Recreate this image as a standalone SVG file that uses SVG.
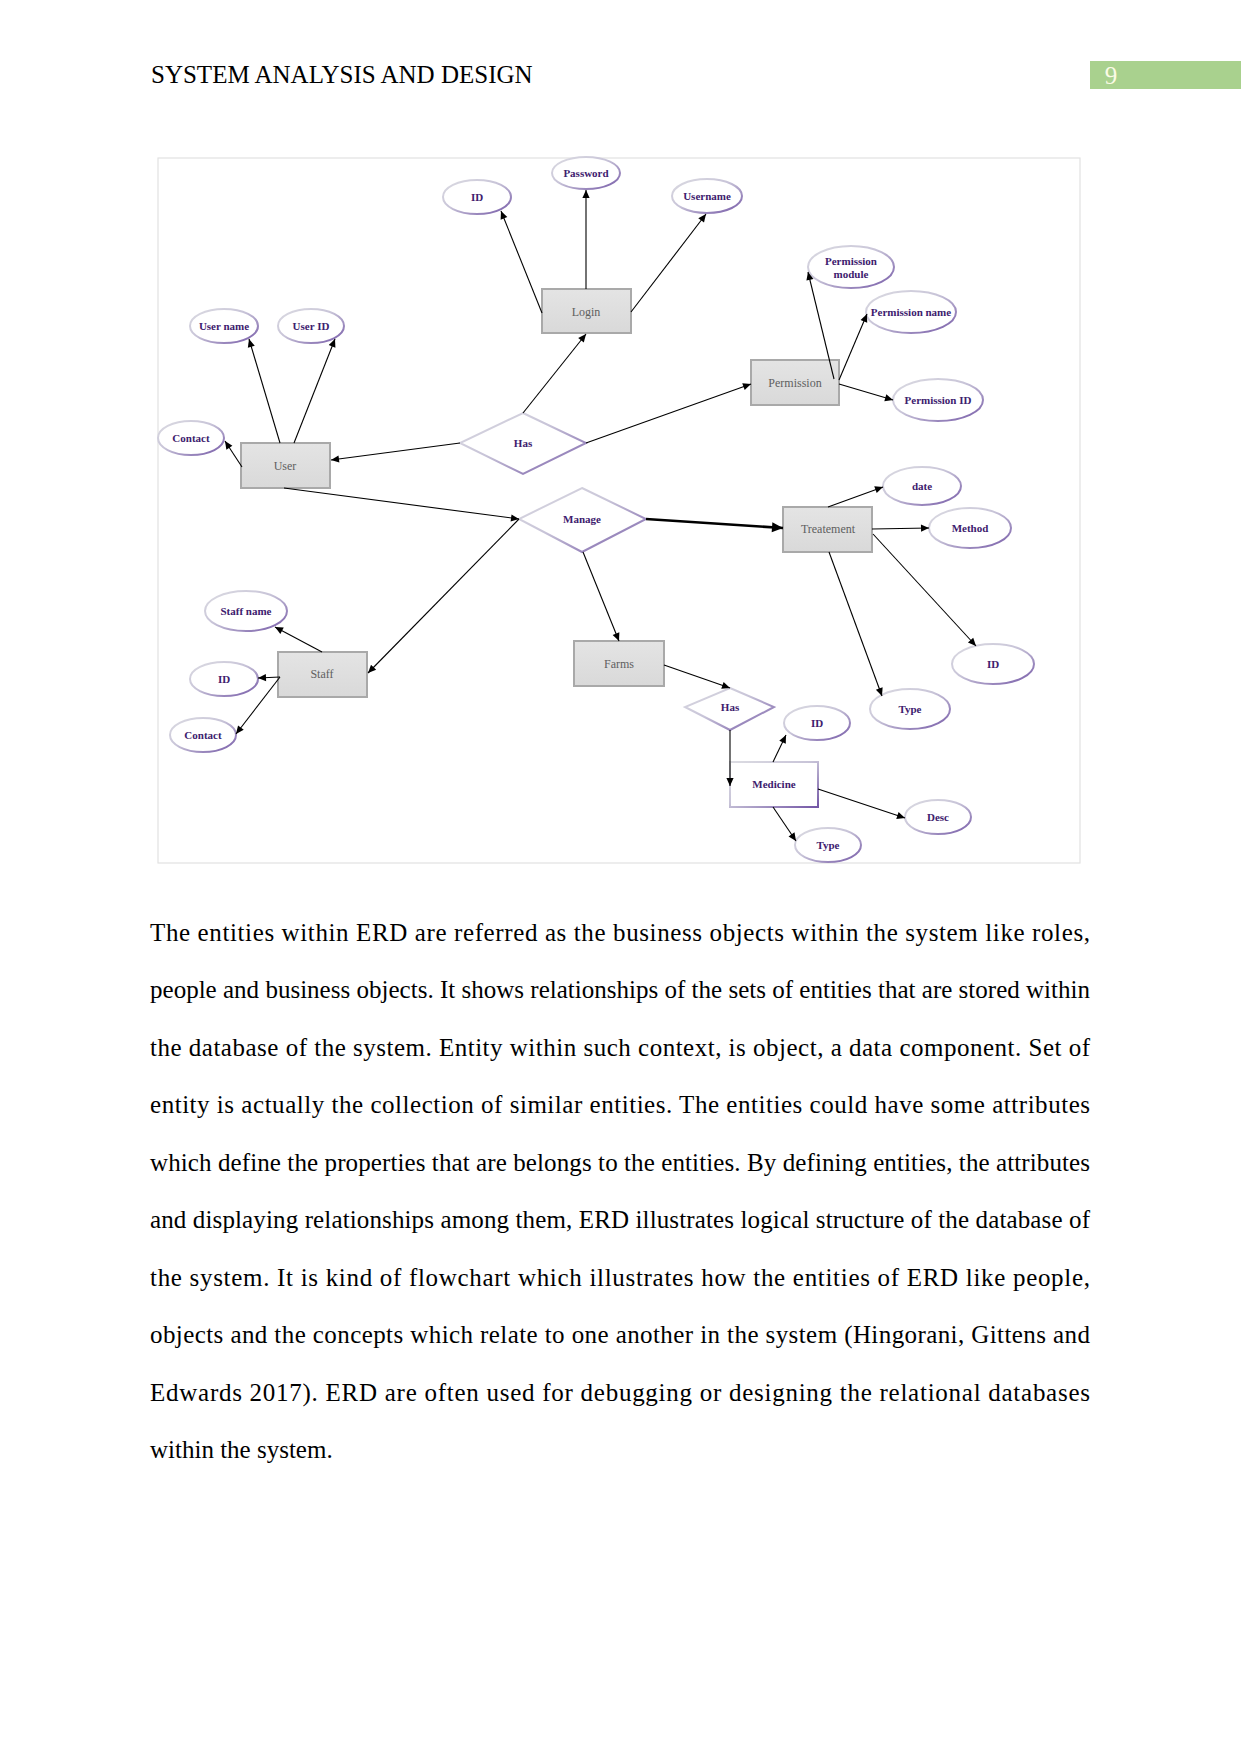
<svg xmlns="http://www.w3.org/2000/svg" width="1241" height="1754" viewBox="0 0 1241 1754">
<defs>
<style>
.hdr{font-family:"Liberation Serif","Times New Roman",serif;font-size:25px;fill:#000}
.body{font-family:"Liberation Serif","Times New Roman",serif;font-size:25px;fill:#000}
.attr{fill:#fff;stroke:url(#pg);stroke-width:2}
.atxt{font-family:"Liberation Serif","Times New Roman",serif;font-size:11px;font-weight:bold;fill:#3d206e;text-anchor:middle}
.ent{fill:url(#eg);stroke:#a9a9a9;stroke-width:2}
.etxt{font-family:"Liberation Serif","Times New Roman",serif;font-size:12px;fill:#606060;text-anchor:middle}
.rel{fill:#fff;stroke:url(#pg);stroke-width:2}
.conn line{stroke:#000;stroke-width:1.1;marker-end:url(#ah)}
</style>
<linearGradient id="pg" x1="0" y1="0" x2="1" y2="1">
<stop offset="0" stop-color="#dcdce2"/>
<stop offset="0.45" stop-color="#c8c4d8"/>
<stop offset="1" stop-color="#7356a6"/>
</linearGradient>
<linearGradient id="eg" x1="0" y1="0" x2="0" y2="1">
<stop offset="0" stop-color="#e4e4e4"/>
<stop offset="1" stop-color="#d9d9d9"/>
</linearGradient>
<marker id="ah" viewBox="0 0 10 10" refX="10" refY="5" markerWidth="9" markerHeight="8" markerUnits="userSpaceOnUse" orient="auto">
<path d="M0,0.5 L10,5 L0,9.5 z" fill="#000"/>
</marker>
<marker id="ahb" viewBox="0 0 10 10" refX="10" refY="5" markerWidth="13" markerHeight="11" markerUnits="userSpaceOnUse" orient="auto">
<path d="M0,0.5 L10,5 L0,9.5 z" fill="#000"/>
</marker>
</defs>
<rect width="1241" height="1754" fill="#fff"/>

<g id="header">
<text class="hdr" x="151" y="83">SYSTEM ANALYSIS AND DESIGN</text>
<rect x="1090" y="61" width="151" height="28" fill="#a9d18e"/>
<text x="1111" y="84" font-family="Liberation Serif, serif" font-size="25" fill="#fbfbe6" text-anchor="middle">9</text>
</g>

<rect id="frame" x="158" y="158" width="922" height="705" fill="#fff" stroke="#e2e2e2" stroke-width="1.2"/>

<g id="login">
<rect class="ent" x="542" y="289" width="89" height="44"/>
<text class="etxt" x="586" y="316">Login</text>
</g>
<g id="login-id">
<ellipse class="attr" cx="477" cy="197" rx="34" ry="17"/>
<text class="atxt" x="477" y="201">ID</text>
</g>
<g id="login-password">
<ellipse class="attr" cx="586" cy="173" rx="34" ry="16"/>
<text class="atxt" x="586" y="177">Password</text>
</g>
<g id="login-username">
<ellipse class="attr" cx="707" cy="196" rx="35" ry="17"/>
<text class="atxt" x="707" y="200">Username</text>
</g>

<g id="permission">
<rect class="ent" x="751" y="360" width="88" height="45"/>
<text class="etxt" x="795" y="387">Permission</text>
</g>
<g id="permission-module">
<ellipse class="attr" cx="851" cy="267" rx="43" ry="21"/>
<text class="atxt" x="851" y="265">Permission</text>
<text class="atxt" x="851" y="278">module</text>
</g>
<g id="permission-name">
<ellipse class="attr" cx="911" cy="312" rx="45" ry="21"/>
<text class="atxt" x="911" y="316">Permission name</text>
</g>
<g id="permission-id">
<ellipse class="attr" cx="938" cy="400" rx="45" ry="21"/>
<text class="atxt" x="938" y="404">Permission ID</text>
</g>

<g id="user">
<rect class="ent" x="241" y="443" width="89" height="45"/>
<text class="etxt" x="285" y="470">User</text>
</g>
<g id="user-name">
<ellipse class="attr" cx="224" cy="326" rx="34" ry="17"/>
<text class="atxt" x="224" y="330">User name</text>
</g>
<g id="user-id">
<ellipse class="attr" cx="311" cy="326" rx="33" ry="17"/>
<text class="atxt" x="311" y="330">User ID</text>
</g>
<g id="user-contact">
<ellipse class="attr" cx="191" cy="438" rx="33" ry="17"/>
<text class="atxt" x="191" y="442">Contact</text>
</g>

<g id="has-top">
<polygon class="rel" points="523,413 586,443 523,474 460,443"/>
<text class="atxt" x="523" y="447">Has</text>
</g>

<g id="manage">
<polygon class="rel" points="582,488 646,519 582,552 519,519"/>
<text class="atxt" x="582" y="523">Manage</text>
</g>

<g id="treatement">
<rect class="ent" x="783" y="507" width="89" height="45"/>
<text class="etxt" x="828" y="533">Treatement</text>
</g>
<g id="treat-date">
<ellipse class="attr" cx="922" cy="486" rx="39" ry="19"/>
<text class="atxt" x="922" y="490">date</text>
</g>
<g id="treat-method">
<ellipse class="attr" cx="970" cy="528" rx="41" ry="20"/>
<text class="atxt" x="970" y="532">Method</text>
</g>
<g id="treat-id">
<ellipse class="attr" cx="993" cy="664" rx="41" ry="20"/>
<text class="atxt" x="993" y="668">ID</text>
</g>
<g id="treat-type">
<ellipse class="attr" cx="910" cy="709" rx="40" ry="20"/>
<text class="atxt" x="910" y="713">Type</text>
</g>

<g id="staff">
<rect class="ent" x="278" y="652" width="89" height="45"/>
<text class="etxt" x="322" y="678">Staff</text>
</g>
<g id="staff-name">
<ellipse class="attr" cx="246" cy="611" rx="41" ry="20"/>
<text class="atxt" x="246" y="615">Staff name</text>
</g>
<g id="staff-id">
<ellipse class="attr" cx="224" cy="679" rx="34" ry="17"/>
<text class="atxt" x="224" y="683">ID</text>
</g>
<g id="staff-contact">
<ellipse class="attr" cx="203" cy="735" rx="33" ry="17"/>
<text class="atxt" x="203" y="739">Contact</text>
</g>

<g id="farms">
<rect class="ent" x="574" y="641" width="90" height="45"/>
<text class="etxt" x="619" y="668">Farms</text>
</g>

<g id="has-bottom">
<polygon class="rel" points="730,688 774,707 730,730 685,707"/>
<text class="atxt" x="730" y="711">Has</text>
</g>

<g id="medicine">
<rect x="730" y="762" width="88" height="45" fill="#fff" stroke="url(#pg)" stroke-width="2"/>
<text class="atxt" x="774" y="788">Medicine</text>
</g>
<g id="med-id">
<ellipse class="attr" cx="817" cy="723" rx="33" ry="17"/>
<text class="atxt" x="817" y="727">ID</text>
</g>
<g id="med-desc">
<ellipse class="attr" cx="938" cy="817" rx="33" ry="17"/>
<text class="atxt" x="938" y="821">Desc</text>
</g>
<g id="med-type">
<ellipse class="attr" cx="828" cy="845" rx="33" ry="17"/>
<text class="atxt" x="828" y="849">Type</text>
</g>

<g id="connectors" class="conn">
<line x1="542" y1="313" x2="501" y2="211"/>
<line x1="586" y1="289" x2="586" y2="190"/>
<line x1="631" y1="312" x2="706" y2="214"/>
<line x1="523" y1="413" x2="586" y2="334"/>
<line x1="460" y1="443" x2="331" y2="460"/>
<line x1="586" y1="443" x2="751" y2="384"/>
<line x1="280" y1="443" x2="249" y2="339"/>
<line x1="294" y1="443" x2="335" y2="339"/>
<line x1="242" y1="467" x2="225" y2="441"/>
<line x1="284" y1="488" x2="519" y2="519"/>
<line x1="646" y1="519" x2="783" y2="528" style="stroke-width:2.6;marker-end:url(#ahb)"/>
<line x1="519" y1="519" x2="368" y2="673"/>
<line x1="583" y1="552" x2="619" y2="641"/>
<line x1="828" y1="507" x2="883" y2="487"/>
<line x1="872" y1="529" x2="929" y2="528"/>
<line x1="873" y1="534" x2="976" y2="646"/>
<line x1="829" y1="552" x2="882" y2="696"/>
<line x1="322" y1="652" x2="275" y2="627"/>
<line x1="280" y1="677" x2="258" y2="678"/>
<line x1="280" y1="677" x2="236" y2="734"/>
<line x1="664" y1="665" x2="730" y2="688"/>
<line x1="730" y1="730" x2="730" y2="786"/>
<line x1="773" y1="762" x2="786" y2="735"/>
<line x1="818" y1="789" x2="905" y2="818"/>
<line x1="773" y1="807" x2="796" y2="841"/>
<line x1="834" y1="379" x2="808" y2="272"/>
<line x1="839" y1="380" x2="867" y2="314"/>
<line x1="839" y1="384" x2="893" y2="400"/>
</g>

<g id="body-text" class="body">
<text x="150" y="941" textLength="940" lengthAdjust="spacing">The entities within ERD are referred as the business objects within the system like roles,</text>
<text x="150" y="998" textLength="940" lengthAdjust="spacing">people and business objects. It shows relationships of the sets of entities that are stored within</text>
<text x="150" y="1056" textLength="940" lengthAdjust="spacing">the database of the system. Entity within such context, is object, a data component. Set of</text>
<text x="150" y="1113" textLength="940" lengthAdjust="spacing">entity is actually the collection of similar entities. The entities could have some attributes</text>
<text x="150" y="1171" textLength="940" lengthAdjust="spacing">which define the properties that are belongs to the entities. By defining entities, the attributes</text>
<text x="150" y="1228" textLength="940" lengthAdjust="spacing">and displaying relationships among them, ERD illustrates logical structure of the database of</text>
<text x="150" y="1286" textLength="940" lengthAdjust="spacing">the system. It is kind of flowchart which illustrates how the entities of ERD like people,</text>
<text x="150" y="1343" textLength="940" lengthAdjust="spacing">objects and the concepts which relate to one another in the system (Hingorani, Gittens and</text>
<text x="150" y="1401" textLength="940" lengthAdjust="spacing">Edwards 2017). ERD are often used for debugging or designing the relational databases</text>
<text x="150" y="1458">within the system.</text>
</g>
</svg>
